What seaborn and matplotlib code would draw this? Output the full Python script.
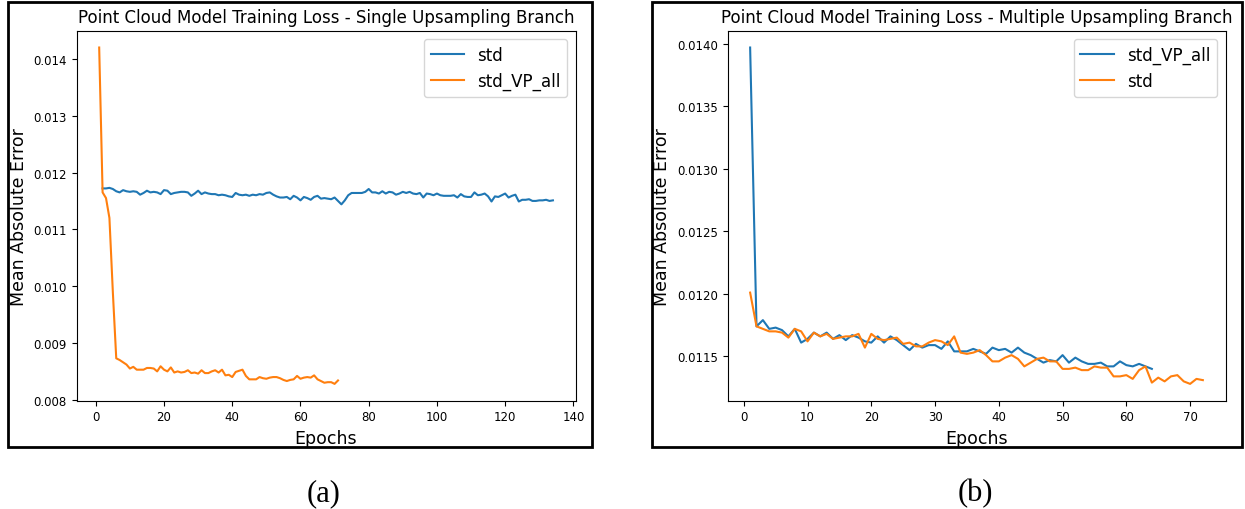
import numpy as np
import pandas as pd
import matplotlib
matplotlib.use("Agg")
import matplotlib.pyplot as plt
from matplotlib.patches import Rectangle
import seaborn as sns

# ---- Panel (a): single upsampling branch ----
single_std = [
    0.01172, 0.01172, 0.01173, 0.01171, 0.01167, 0.01165, 0.01169, 0.01167, 0.01166, 0.01167,
    0.01166, 0.01161, 0.01164, 0.01168, 0.01165, 0.01166, 0.01165, 0.01162, 0.01169, 0.01168,
    0.01162, 0.01164, 0.01165, 0.01166, 0.01166, 0.01165, 0.01159, 0.01163, 0.01168, 0.01162,
    0.01165, 0.01163, 0.01162, 0.01162, 0.01160, 0.01161, 0.01160, 0.01158, 0.01157, 0.01164,
    0.01161, 0.01160, 0.01161, 0.01159, 0.01161, 0.01160, 0.01162, 0.01161, 0.01164, 0.01165,
    0.01161, 0.01158, 0.01156, 0.01156, 0.01157, 0.01153, 0.01159, 0.01156, 0.01151, 0.01157,
    0.01155, 0.01152, 0.01157, 0.01159, 0.01154, 0.01155, 0.01154, 0.01153, 0.01156, 0.01150,
    0.01144, 0.01151, 0.01160, 0.01164, 0.01164, 0.01164, 0.01164, 0.01166, 0.01171, 0.01165,
    0.01165, 0.01163, 0.01167, 0.01163, 0.01166, 0.01165, 0.01161, 0.01163, 0.01166, 0.01164,
    0.01166, 0.01163, 0.01162, 0.01164, 0.01156, 0.01163, 0.01162, 0.01160, 0.01163, 0.01160,
    0.01159, 0.01159, 0.01159, 0.01160, 0.01156, 0.01162, 0.01158, 0.01157, 0.01157, 0.01165,
    0.01160, 0.01161, 0.01163, 0.01158, 0.01149, 0.01158, 0.01157, 0.01160, 0.01163, 0.01156,
    0.01159, 0.01161, 0.01149, 0.01152, 0.01152, 0.01153, 0.01150, 0.01150, 0.01151, 0.01151,
    0.01152, 0.01150, 0.01151,
]
single_std_first_epoch = 2

single_vp_all = [
    0.01420, 0.01165, 0.01155, 0.01120, 0.00990, 0.00873, 0.00870, 0.00866, 0.00862, 0.00855,
    0.00858, 0.00853, 0.00853, 0.00853, 0.00856, 0.00856, 0.00855, 0.00850, 0.00859, 0.00853,
    0.00850, 0.00857, 0.00848, 0.00850, 0.00848, 0.00849, 0.00852, 0.00847, 0.00848, 0.00846,
    0.00852, 0.00847, 0.00847, 0.00850, 0.00852, 0.00848, 0.00853, 0.00843, 0.00844, 0.00840,
    0.00849, 0.00851, 0.00853, 0.00842, 0.00836, 0.00836, 0.00836, 0.00840, 0.00838, 0.00837,
    0.00839, 0.00840, 0.00840, 0.00838, 0.00835, 0.00833, 0.00835, 0.00836, 0.00842, 0.00837,
    0.00839, 0.00840, 0.00839, 0.00843, 0.00836, 0.00833, 0.00830, 0.00831, 0.00831, 0.00828,
    0.00834,
]
single_vp_all_first_epoch = 1

# ---- Panel (b): multiple upsampling branch ----
multi_vp_all = [
    0.01397, 0.01174, 0.01179, 0.01172, 0.01173, 0.01171, 0.01166, 0.01172, 0.01161, 0.01164,
    0.01169, 0.01166, 0.01169, 0.01164, 0.01167, 0.01163, 0.01167, 0.01165, 0.01162, 0.01161,
    0.01166, 0.01161, 0.01166, 0.01163, 0.01159, 0.01155, 0.01160, 0.01157, 0.01159, 0.01159,
    0.01156, 0.01162, 0.01154, 0.01154, 0.01154, 0.01156, 0.01154, 0.01152, 0.01157, 0.01155,
    0.01156, 0.01153, 0.01157, 0.01153, 0.01151, 0.01148, 0.01145, 0.01147, 0.01146, 0.01151,
    0.01145, 0.01149, 0.01146, 0.01144, 0.01144, 0.01145, 0.01142, 0.01142, 0.01146, 0.01143,
    0.01142, 0.01144, 0.01142, 0.01140,
]
multi_std = [
    0.01201, 0.01174, 0.01172, 0.01170, 0.01170, 0.01169, 0.01165, 0.01172, 0.01170, 0.01162,
    0.01169, 0.01166, 0.01168, 0.01164, 0.01165, 0.01166, 0.01166, 0.01168, 0.01157, 0.01168,
    0.01164, 0.01163, 0.01164, 0.01165, 0.01160, 0.01161, 0.01158, 0.01158, 0.01161, 0.01163,
    0.01162, 0.01159, 0.01166, 0.01153, 0.01152, 0.01153, 0.01155, 0.01151, 0.01146, 0.01146,
    0.01149, 0.01151, 0.01148, 0.01142, 0.01145, 0.01148, 0.01149, 0.01146, 0.01146, 0.01140,
    0.01140, 0.01141, 0.01139, 0.01139, 0.01142, 0.01141, 0.01141, 0.01134, 0.01134, 0.01135,
    0.01132, 0.01139, 0.01142, 0.01129, 0.01133, 0.01130, 0.01134, 0.01135, 0.01130, 0.01128,
    0.01132, 0.01131,
]

titles = [
    "Point Cloud Model Training Loss - Single Upsampling Branch",
    "Point Cloud Model Training Loss - Multiple Upsampling Branch",
]
captions = ["(a)", "(b)"]
x_label = "Epochs"
y_label = "Mean Absolute Error"


def long_frame(series):
    """series: list of (name, first_epoch, values) -> long-form DataFrame."""
    parts = []
    for name, start, vals in series:
        parts.append(pd.DataFrame({
            "Epoch": np.arange(start, start + len(vals)),
            "MAE": vals,
            "run": name,
        }))
    return pd.concat(parts, ignore_index=True)


df_a = long_frame([
    ("std", single_std_first_epoch, single_std),
    ("std_VP_all", single_vp_all_first_epoch, single_vp_all),
])
df_b = long_frame([
    ("std_VP_all", 1, multi_vp_all),
    ("std", 1, multi_std),
])

W, H = 1245, 510
fig = plt.figure(figsize=(W / 100, H / 100), dpi=100)
palette = ["#1f77b4", "#ff7f0e"]

# axes rectangles in pixel units (left, top, right, bottom)
axes_px = [(76.5, 31.7, 575.6, 401.7), (727.5, 31.7, 1225.5, 401.7)]
frames_px = [(8, 3, 592, 448), (652, 3, 1242, 448)]
caption_px = [(324, 494), (975, 494)]

for i, (df, order) in enumerate([(df_a, ["std", "std_VP_all"]),
                                 (df_b, ["std_VP_all", "std"])]):
    l, t, r, b = axes_px[i]
    ax = fig.add_axes([l / W, 1 - b / H, (r - l) / W, (b - t) / H])
    sns.lineplot(data=df, x="Epoch", y="MAE", hue="run", hue_order=order,
                 palette=palette, estimator=None, linewidth=1.5, ax=ax)
    ax.set_title(titles[i], fontsize=12, pad=6)
    ax.set_xlabel(x_label, fontsize=12.5)
    ax.set_ylabel(y_label, fontsize=12.5)
    ax.tick_params(labelsize=8.5)
    sns.move_legend(ax, "upper right", title=None, fontsize=12)

    fl, ft, fr, fb = frames_px[i]
    fig.patches.append(Rectangle((fl / W, 1 - fb / H), (fr - fl) / W, (fb - ft) / H,
                                 transform=fig.transFigure, fill=False,
                                 edgecolor="black", linewidth=2.0))
    cx, cy = caption_px[i]
    fig.text(cx / W, 1 - cy / H, captions[i], ha="center", va="center",
             family="Liberation Serif", fontsize=22)

fig.savefig("out.png", dpi=100)
